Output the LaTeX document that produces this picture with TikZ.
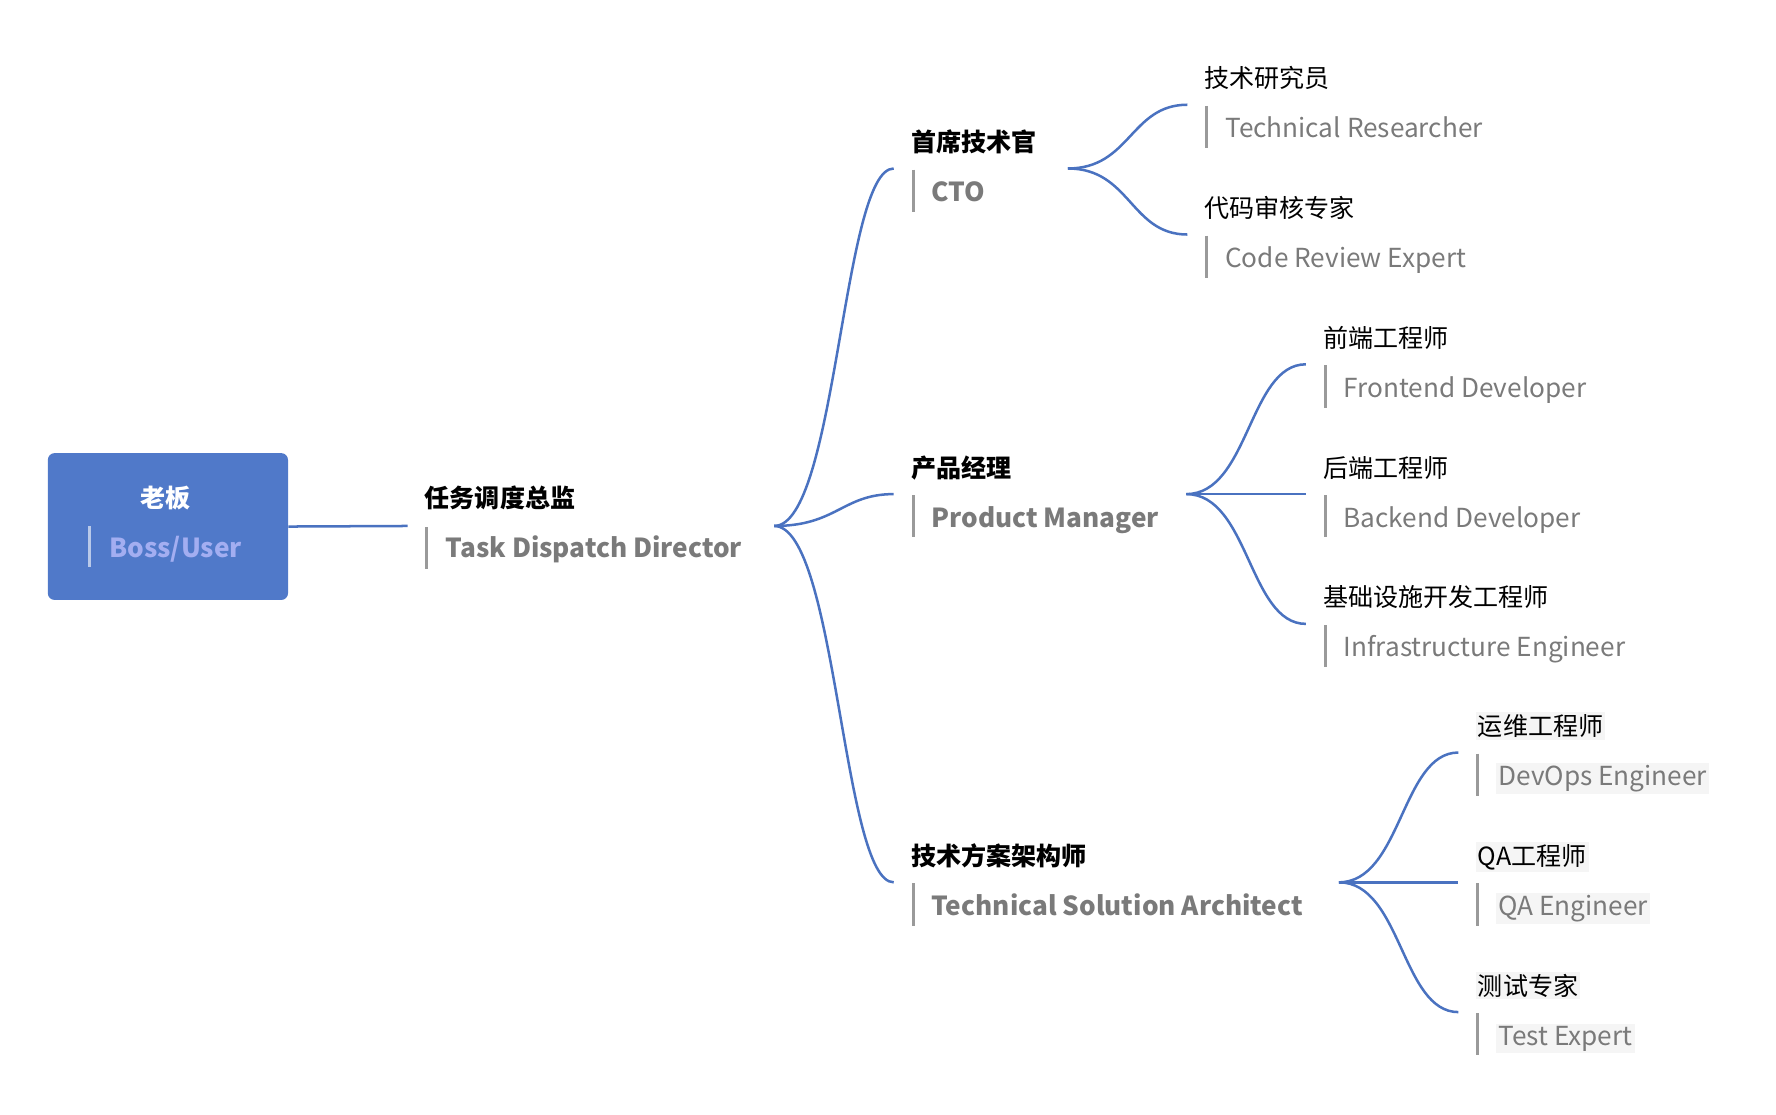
\documentclass[tikz,border=0pt]{standalone}
\usepackage{fontspec}
\setmainfont{Noto Sans CJK SC}
\usetikzlibrary{positioning,calc}
\definecolor{branch}{HTML}{4A72C0}
\definecolor{bossblue}{HTML}{5079C9}
\definecolor{subgray}{HTML}{7A7A7A}
\definecolor{bargray}{HTML}{9A9A9A}
\newcommand*{\zh}[1]{\fontsize{22}{26}\selectfont #1}
\newcommand*{\en}[1]{\fontsize{23}{27}\selectfont #1}
\tikzset{
  link/.style={branch,line width=2.2pt},
  bar/.style={bargray,line width=2.6pt},
  title/.style={anchor=base west,inner sep=0pt,text=black},
  sub/.style={anchor=base west,inner sep=0pt,text=subgray},
  shade/.style={fill=black!4,inner sep=2pt}
}

\begin{document}
\begin{tikzpicture}[x=1pt,y=-1pt]
\useasboundingbox (0,0) rectangle (1560,979);
% Root box
\node[fill=bossblue,rounded corners=6pt,minimum width=211pt,minimum height=129pt] (boss) at (147.5,462.5) {};
\node[anchor=base,text=white,inner sep=0pt] (bossz) at (145,446) {\zh{\bfseries 老板}};
\node[sub,text=blue!25!white!75!bossblue] (bosse) at (96,490) {\en{\bfseries Boss/User}};
\draw[bar,white!60!bossblue] (79,462) -- (79,498);
% Dispatcher
\node[title] (task) at (373,446) {\zh{\bfseries 任务调度总监}};
\node[sub] (taske) at (391,490) {\en{\bfseries Task Dispatch Director}};
\draw[bar] (375,463) -- (375,500);
\coordinate (taskin) at (358,462);
\coordinate (taskout) at (680,462);
\draw[link] (boss.east) -- (taskin);
% Managers
\foreach \name/\zhtxt/\entxt/\y in {cto/首席技术官/CTO/148,pm/产品经理/Product Manager/434,tsa/技术方案架构师/Technical Solution Architect/775}{
  \node[title] (\name) at (800,\y-15) {\zh{\bfseries \zhtxt}};
  \node[sub] (\name e) at (818,\y+29) {\en{\bfseries \entxt}};
  \draw[bar] (802,\y+1) -- (802,\y+38);
  \coordinate (\name in) at (785,\y);
  \draw[link] (taskout) .. controls (735,462) and (740,\y) .. (\name in);
}
\coordinate (ctoout) at (938,148);
\coordinate (pmout) at (1042,434);
\coordinate (tsaout) at (1176,775);
% Experts
\foreach \name/\parent/\x/\y/\zhtxt/\entxt in {
  res/cto/1043/92/技术研究员/Technical Researcher,
  rev/cto/1043/206/代码审核专家/Code Review Expert,
  fe/pm/1147/320/前端工程师/Frontend Developer,
  be/pm/1147/434/后端工程师/Backend Developer,
  inf/pm/1147/548/基础设施开发工程师/Infrastructure Engineer}{
  \node[title] (\name) at (\x+15,\y-15) {\zh{\zhtxt}};
  \node[sub] (\name e) at (\x+33,\y+29) {\en{\entxt}};
  \draw[bar] (\x+17,\y+1) -- (\x+17,\y+38);
  \coordinate (\name in) at (\x,\y);
  \draw[link] (\parent out) .. controls ($(\parent out)+(55,0)$) and (\x-50,\y) .. (\name in);
}
% Experts under the architect (shaded labels)
\foreach \name/\y/\zhtxt/\entxt in {ops/661/运维工程师/DevOps Engineer,qa/775/QA工程师/QA Engineer,test/889/测试专家/Test Expert}{
  \node[title,shade] (\name) at (1296,\y-15) {\zh{\zhtxt}};
  \node[sub,shade] (\name e) at (1314,\y+29) {\en{\entxt}};
  \draw[bar] (1298,\y+1) -- (1298,\y+38);
  \coordinate (\name in) at (1281,\y);
  \draw[link] (tsaout) .. controls (1231,775) and (1231,\y) .. (\name in);
}
\end{tikzpicture}
\end{document}
